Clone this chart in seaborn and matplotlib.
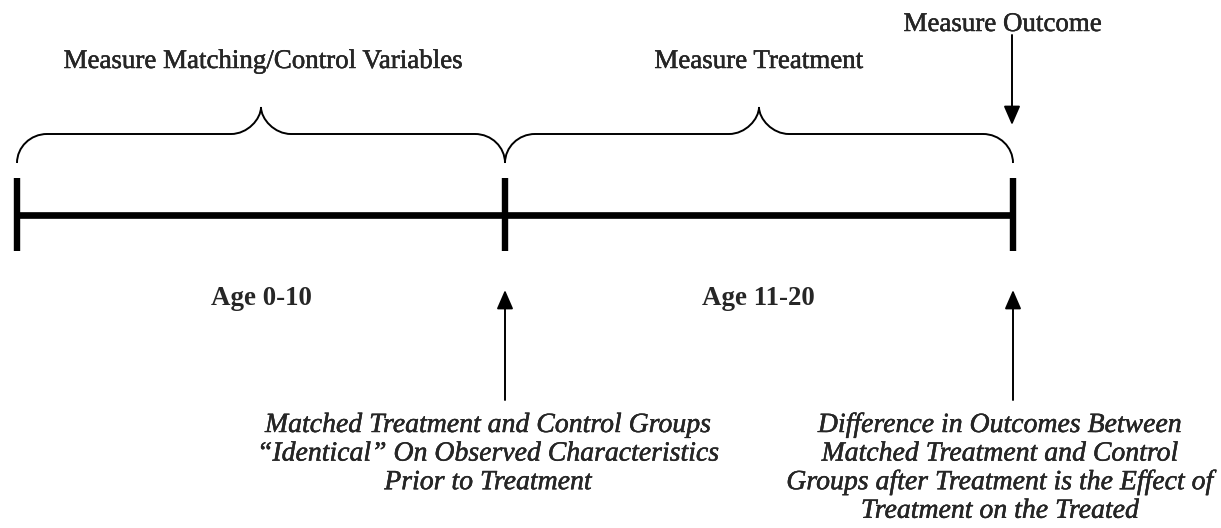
import matplotlib
matplotlib.use("Agg")
import matplotlib.pyplot as plt
import matplotlib.patheffects as pe
import seaborn as sns
import pandas as pd
from matplotlib.path import Path
from matplotlib.patches import PathPatch, FancyArrowPatch

# ---- content ----
period_labels = ["Age 0-10", "Age 11-20"]
measure_labels = ["Measure Matching/Control Variables", "Measure Treatment"]
outcome_label = "Measure Outcome"
note_matched = ["Matched Treatment and Control Groups",
                "\u201cIdentical\u201d On Observed Characteristics",
                "Prior to Treatment"]
note_effect = ["Difference in Outcomes Between",
               "Matched Treatment and Control",
               "Groups after Treatment is the Effect of",
               "Treatment on the Treated"]

# ---- layout (pixel canvas) ----
boundary_x = [17, 505, 1013]
line_y = 215
tick_top, tick_bot = 178, 251
brace_tip, brace_bar, brace_cusp = 163, 134, 107
FS = 19.4
FS_IT = 20.0
ink = [pe.withStroke(linewidth=0.3, foreground="black")]

sns.set_theme(style="white")
plt.rcParams['font.family'] = ['Liberation Serif', 'DejaVu Serif']

fig = plt.figure(figsize=(12.21, 5.28), dpi=100)
ax = fig.add_axes([0, 0, 1, 1])

# timeline
tl = pd.DataFrame({"x": [boundary_x[0], boundary_x[-1]], "y": [line_y, line_y]})
sns.lineplot(data=tl, x="x", y="y", color="black", linewidth=4.8, ax=ax,
             solid_capstyle="butt")
ax.vlines(boundary_x, tick_top, tick_bot, color="black", linewidth=4.6)
ax.set_xlim(0, 1221)
ax.set_ylim(528, 0)
ax.axis('off')


def brace(x0, x1, r=30):
    xm = (x0 + x1) / 2
    k = 0.55
    verts = [
        (x0, brace_tip),
        (x0, brace_tip - (brace_tip - brace_bar) * k), (x0 + r * (1 - k), brace_bar), (x0 + r, brace_bar),
        (xm - r, brace_bar),
        (xm - r * (1 - k), brace_bar), (xm, brace_cusp + (brace_bar - brace_cusp) * (1 - k)), (xm, brace_cusp),
        (xm, brace_cusp + (brace_bar - brace_cusp) * (1 - k)), (xm + r * (1 - k), brace_bar), (xm + r, brace_bar),
        (x1 - r, brace_bar),
        (x1 - r * (1 - k), brace_bar), (x1, brace_tip - (brace_tip - brace_bar) * k), (x1, brace_tip),
    ]
    codes = [Path.MOVETO,
             Path.CURVE4, Path.CURVE4, Path.CURVE4,
             Path.LINETO,
             Path.CURVE4, Path.CURVE4, Path.CURVE4,
             Path.CURVE4, Path.CURVE4, Path.CURVE4,
             Path.LINETO,
             Path.CURVE4, Path.CURVE4, Path.CURVE4]
    ax.add_patch(PathPatch(Path(verts, codes), fill=False, edgecolor="black", linewidth=1.4))
    return xm


mids = [brace(boundary_x[i], boundary_x[i + 1]) for i in range(2)]

# measure labels above braces
ax.text(262, 68, measure_labels[0], ha="center", va="baseline", fontsize=FS, path_effects=ink)
ax.text(758, 68, measure_labels[1], ha="center", va="baseline", fontsize=FS, path_effects=ink)
ax.text(1002, 31, outcome_label, ha="center", va="baseline", fontsize=FS, path_effects=ink)

# period labels
ax.text(261, 305, period_labels[0], ha="center", va="baseline", fontsize=FS, fontweight="bold")
ax.text(758, 305, period_labels[1], ha="center", va="baseline", fontsize=FS, fontweight="bold")


def arrow(x, y0, y1):
    ax.add_patch(FancyArrowPatch((x, y0), (x, y1),
                                 arrowstyle="-|>,head_length=1.15,head_width=0.5",
                                 mutation_scale=10, linewidth=1.4, color="black",
                                 shrinkA=0, shrinkB=0))


arrow(1012, 35, 125)
arrow(boundary_x[1], 400, 290)
arrow(boundary_x[2], 400, 290)

# notes
for i, s in enumerate(note_matched):
    ax.text(488, 432 + 28.6 * i, s, ha="center", va="baseline", fontsize=FS_IT,
            style="italic", path_effects=ink)
for i, s in enumerate(note_effect):
    ax.text(1000, 432 + 28.6 * i, s, ha="center", va="baseline", fontsize=FS_IT,
            style="italic", path_effects=ink)

fig.savefig("out.png", dpi=100, facecolor="white")
